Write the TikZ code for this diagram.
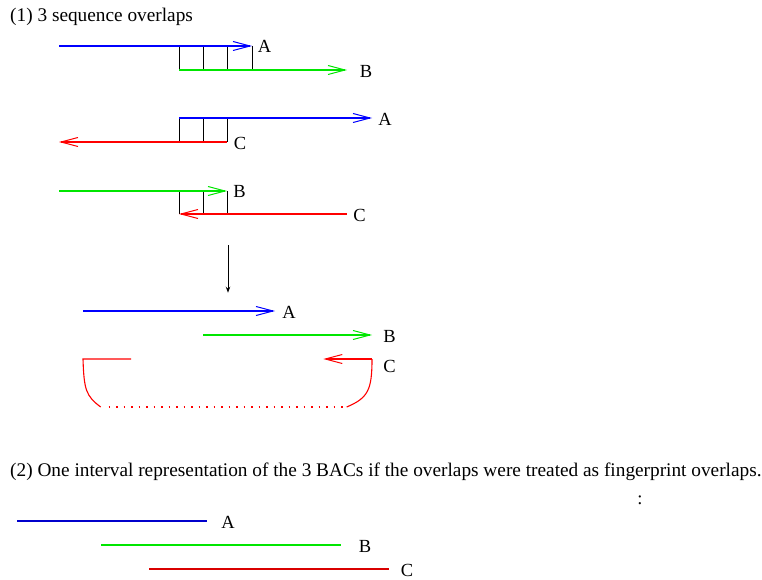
\documentclass[tikz,border=0pt]{standalone}
\usepackage{fontspec}
\setmainfont{Liberation Serif}
\usetikzlibrary{arrows.meta,calc}
\definecolor{pblue}{RGB}{0,0,255}
\definecolor{pgreen}{RGB}{0,230,0}
\definecolor{pred}{RGB}{255,0,0}
\begin{document}
\begin{tikzpicture}[x=1pt,y=-1pt,
  seq/.style={line width=1.1pt},
  barb/.style={-{Straight Barb[length=17pt,width=9pt,line width=1pt]}},
  rbarb/.style={{Straight Barb[length=17pt,width=9pt,line width=1pt]}-},
  tick/.style={line width=1pt,black},
  lbl/.style={inner sep=0pt,font=\fontsize{18.5}{20}\selectfont},
  ttl/.style={inner sep=0pt,anchor=base west,font=\fontsize{19.3}{21}\selectfont}]
\useasboundingbox (0,0) rectangle (762,580);
\fill[white] (0,0) rectangle (762,580);
% titles
\node[ttl] (t1) at (10,22) {(1) 3 sequence overlaps};
% ---------- row 1: A over B
\coordinate (a1s) at (59,46); \coordinate (a1e) at (252,46);
\coordinate (b1s) at (179,70); \coordinate (b1e) at (347,70);
\foreach \x in {179,203,227,252} \draw[tick] (\x,46) -- (\x,70);
\draw[seq,pblue,barb] (a1s) -- (a1e);
\draw[seq,pgreen,barb] (b1s) -- (b1e);
\node[lbl] (la1) at (264.5,46.5) {A};
\node[lbl] (lb1) at (366,71) {B};
% ---------- row 2: A over C
\coordinate (a2s) at (179,118); \coordinate (a2e) at (372,118);
\coordinate (c2s) at (59,142); \coordinate (c2e) at (227,142);
\foreach \x in {179,203,227} \draw[tick] (\x,118) -- (\x,142);
\draw[seq,pblue,barb] (a2s) -- (a2e);
\draw[seq,pred,rbarb] (c2s) -- (c2e);
\node[lbl] (la2) at (385,119) {A};
\node[lbl] (lc2) at (240,143) {C};
% ---------- row 3: B over C
\coordinate (b3s) at (59,191); \coordinate (b3e) at (227,191);
\coordinate (c3s) at (179,214); \coordinate (c3e) at (347,214);
\foreach \x in {179,203,227} \draw[tick] (\x,191) -- (\x,214);
\draw[seq,pgreen,barb] (b3s) -- (b3e);
\draw[seq,pred,rbarb] (c3s) -- (c3e);
\node[lbl] (lb3) at (239.5,191) {B};
\node[lbl] (lc3) at (359.5,215) {C};
% ---------- down arrow
\coordinate (d1) at (228,245); \coordinate (d2) at (228,292.7);
\draw[line width=1pt,-{Stealth[length=6pt,width=4.5pt]}] (d1) -- (d2);
% ---------- assembled
\coordinate (a4s) at (83,311); \coordinate (a4e) at (275,311);
\coordinate (b4s) at (203,335); \coordinate (b4e) at (372,335);
\draw[seq,pblue,barb] (a4s) -- (a4e);
\draw[seq,pgreen,barb] (b4s) -- (b4e);
\node[lbl] (la4) at (289,312) {A};
\node[lbl] (lb4) at (389.5,336) {B};
\coordinate (c4l) at (83,359); \coordinate (c4lm) at (131,359);
\coordinate (c4rm) at (323.3,359); \coordinate (c4r) at (372,359);
\coordinate (c4bl) at (100.7,407); \coordinate (c4br) at (346.7,407);
\draw[seq,pred] (c4lm) -- (c4l) .. controls (84,390) and (86,396) .. (c4bl);
\draw[seq,pred,rbarb] (c4rm) -- (c4r);
\draw[seq,pred] (c4r) .. controls (372,390) and (368,398) .. (c4br);
\draw[seq,pred,dash pattern=on 1.5pt off 6pt] ($(c4bl)+(8,0)$) -- ($(c4br)+(-3,0)$);
\node[lbl] (lc4) at (389.5,366) {C};
% ---------- part 2
\node[ttl] (t2) at (10,476) {(2) One interval representation of the 3 BACs if the overlaps were treated as fingerprint overlaps.};
\node[lbl,anchor=base] (colon) at (640,504) {:};
\coordinate (a5s) at (17,521); \coordinate (a5e) at (207,521);
\coordinate (b5s) at (101,545); \coordinate (b5e) at (341,545);
\coordinate (c5s) at (149,569); \coordinate (c5e) at (389,569);
\draw[seq,pblue!80!black] (a5s) -- (a5e);
\draw[seq,pgreen] (b5s) -- (b5e);
\draw[seq,pred!85!black] (c5s) -- (c5e);
\node[lbl] (la5) at (228,522) {A};
\node[lbl] (lb5) at (365,546) {B};
\node[lbl] (lc5) at (407,570) {C};
\end{tikzpicture}
\end{document}
